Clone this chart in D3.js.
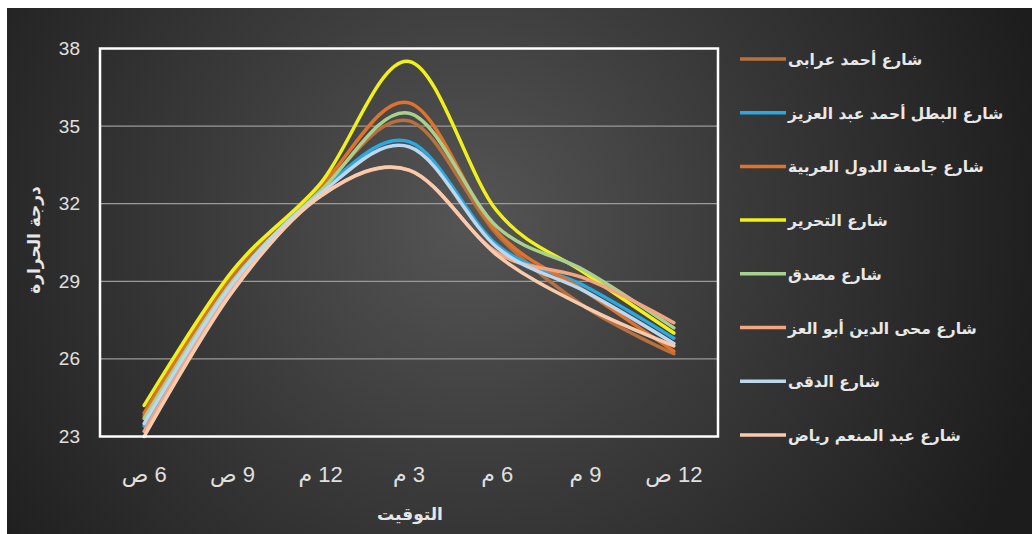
<!DOCTYPE html>
<html><head><meta charset="utf-8">
<script src="https://cdn.jsdelivr.net/npm/d3@7"></script>
<style>
html,body{margin:0;padding:0;background:#fff;}
svg{display:block;}
text{font-family:"Liberation Sans","DejaVu Sans",sans-serif;}
</style></head>
<body>
<svg id="chart" width="1032" height="534"></svg>
<script>
const times = ["6 ص","9 ص","12 م","3 م","6 م","9 م","12 ص"];
const seriesNames = [
  "شارع أحمد عرابى",
  "شارع البطل أحمد عبد العزيز",
  "شارع جامعة الدول العربية",
  "شارع التحرير",
  "شارع مصدق",
  "شارع محى الدين أبو العز",
  "شارع الدقى",
  "شارع عبد المنعم رياض"
];
const orabi   = [23.8, 29.2, 32.6, 35.2, 30.8, 28.0, 26.2];
const batal   = [23.4, 28.9, 32.5, 34.4, 30.4, 28.8, 26.8];
const gamea   = [23.9, 29.3, 32.7, 35.9, 30.9, 28.6, 26.3];
const tahrir  = [24.2, 29.4, 32.8, 37.5, 31.7, 29.3, 27.0];
const mosadaq = [23.7, 29.0, 32.5, 35.5, 31.1, 29.4, 27.2];
const mohy    = [23.2, 28.7, 32.3, 33.3, 30.1, 29.1, 27.4];
const dokki   = [23.5, 28.9, 32.4, 34.2, 30.3, 28.6, 26.6];
const riad    = [23.0, 28.6, 32.3, 33.3, 30.0, 28.0, 26.5];
const seriesValues = [orabi, batal, gamea, tahrir, mosadaq, mohy, dokki, riad];
const colors = ["#b8703f","#2aa8e0","#e0732c","#f0f01c","#a9d18e","#f4a582","#bdd7ee","#f8cbad"];
const yTicks = [23, 26, 29, 32, 35, 38];
const yTitle = "درجة الحرارة";
const xTitle = "التوقيت";

const svg = d3.select("#chart");
const defs = svg.append("defs");
const grad = defs.append("radialGradient").attr("id","bg")
  .attr("gradientUnits","userSpaceOnUse")
  .attr("cx",470).attr("cy",220).attr("r",600);
grad.append("stop").attr("offset","0").attr("stop-color","#555555");
grad.append("stop").attr("offset","0.45").attr("stop-color","#3a3a3a");
grad.append("stop").attr("offset","1").attr("stop-color","#1c1c1c");

svg.append("rect").attr("x",7).attr("y",8).attr("width",1025).attr("height",526).attr("fill","url(#bg)");

const L = 100, R = 718, T = 48.5, B = 436.5;
const x = d3.scaleBand().domain(times).range([L, R]);
const xc = d => x(d) + x.bandwidth()/2;
const y = d3.scaleLinear().domain([23, 38]).range([B, T]);

// gridlines
svg.append("g").selectAll("line").data(yTicks.slice(1, -1)).join("line")
  .attr("x1", L).attr("x2", R).attr("y1", d => y(d)).attr("y2", d => y(d))
  .attr("stroke", "#9a9a9a").attr("stroke-width", 1.2);

// y axis labels
const yAxis = svg.append("g").attr("transform", `translate(${L},0)`)
  .call(d3.axisLeft(y).tickValues(yTicks).tickSize(0).tickPadding(20).tickFormat(d3.format("d")));
yAxis.select(".domain").remove();
yAxis.selectAll("text").attr("fill","#e0e0e0").style("font-size","19px")
  .style("font-family","'Liberation Sans',sans-serif");

// x axis labels
const xAxis = svg.append("g").attr("transform", `translate(0,${B})`)
  .call(d3.axisBottom(x).tickSize(0).tickPadding(45));
xAxis.select(".domain").remove();
xAxis.selectAll("text").attr("fill","#e0e0e0").style("font-size","22px")
  .attr("direction","rtl").attr("dy","0");

// lines
const line = d3.line().x((d,i) => xc(times[i])).y(d => y(d)).curve(d3.curveCatmullRom.alpha(0));
svg.append("g").selectAll("path").data(seriesValues).join("path")
  .attr("d", d => line(d)).attr("fill","none")
  .attr("stroke", (d,i) => colors[i]).attr("stroke-width", 3.5)
  .attr("stroke-linejoin","round").attr("stroke-linecap","round");

// plot border
svg.append("rect").attr("x",L).attr("y",T).attr("width",R-L).attr("height",B-T)
  .attr("fill","none").attr("stroke","#ffffff").attr("stroke-width",2.5);

// titles
svg.append("text").attr("x",410).attr("y",520).attr("text-anchor","middle")
  .attr("fill","#e6e6e6").style("font-size","17px").style("font-weight","bold")
  .style("font-family","'DejaVu Sans',sans-serif").text(xTitle);
svg.append("text").attr("transform","translate(40,240) rotate(-90)").attr("text-anchor","middle")
  .attr("fill","#e6e6e6").style("font-size","17px").style("font-weight","bold")
  .style("font-family","'DejaVu Sans',sans-serif").text(yTitle);

// legend
const lg = svg.append("g").selectAll("g").data(seriesNames).join("g")
  .attr("transform", (d,i) => `translate(0,${59 + i*53.7})`);
lg.append("line").attr("x1",740).attr("x2",786).attr("y1",0).attr("y2",0)
  .attr("stroke",(d,i)=>colors[i]).attr("stroke-width",3.5);
lg.append("text").attr("x",788).attr("y",6).attr("fill","#e8e8e8")
  .style("font-size","15.5px").style("font-weight","bold")
  .style("font-family","'DejaVu Sans',sans-serif").text(d => d);
</script>
</body></html>
